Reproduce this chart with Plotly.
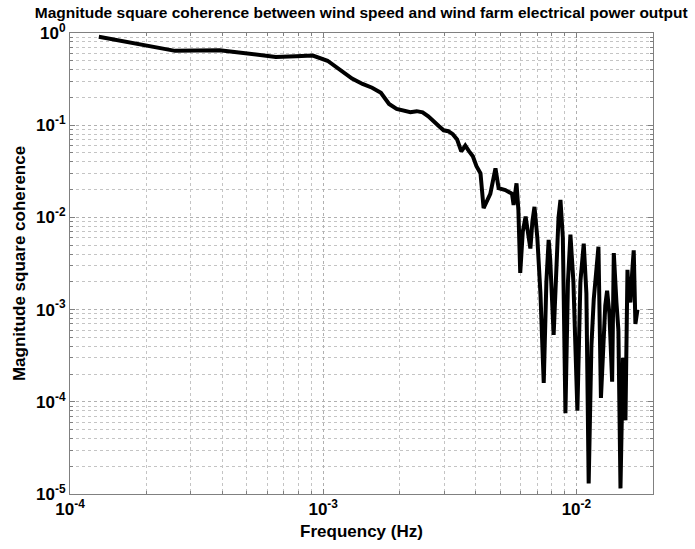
import plotly.graph_objects as go

freq_hz = [
    1.30e-4, 2.60e-4, 3.90e-4, 5.20e-4, 6.50e-4, 7.80e-4, 9.10e-4, 1.04e-3,
    1.17e-3, 1.30e-3, 1.43e-3, 1.56e-3, 1.69e-3, 1.82e-3, 1.95e-3, 2.08e-3,
    2.21e-3, 2.34e-3, 2.47e-3, 2.60e-3, 2.73e-3, 2.86e-3, 2.99e-3, 3.12e-3,
    3.25e-3, 3.38e-3, 3.51e-3, 3.64e-3, 3.77e-3, 3.90e-3, 4.03e-3, 4.18e-3,
    4.30e-3, 4.57e-3, 4.79e-3, 4.93e-3, 5.24e-3, 5.57e-3, 5.65e-3, 5.80e-3,
    5.90e-3, 6.00e-3, 6.14e-3, 6.30e-3, 6.43e-3, 6.58e-3, 6.70e-3, 6.83e-3,
    7.01e-3, 7.21e-3, 7.43e-3, 7.61e-3, 7.77e-3, 7.88e-3, 8.13e-3, 8.34e-3,
    8.50e-3, 8.65e-3, 8.84e-3, 9.05e-3, 9.26e-3, 9.47e-3, 9.60e-3, 9.73e-3,
    1.009e-2, 1.037e-2, 1.069e-2, 1.095e-2, 1.118e-2, 1.146e-2, 1.171e-2,
    1.200e-2, 1.222e-2, 1.250e-2, 1.279e-2, 1.300e-2, 1.322e-2, 1.350e-2,
    1.384e-2, 1.405e-2, 1.439e-2, 1.465e-2, 1.493e-2, 1.527e-2, 1.562e-2,
    1.591e-2, 1.610e-2, 1.634e-2, 1.660e-2, 1.684e-2, 1.710e-2, 1.742e-2,
]

coherence = [
    0.91, 0.64, 0.65, 0.59, 0.55, 0.56, 0.57, 0.50,
    0.39, 0.32, 0.28, 0.255, 0.225, 0.17, 0.15, 0.145,
    0.138, 0.142, 0.138, 0.125, 0.112, 0.098, 0.088, 0.086,
    0.080, 0.070, 0.052, 0.060, 0.052, 0.046, 0.036, 0.030,
    0.0126, 0.018, 0.034, 0.0207, 0.0198, 0.018, 0.0136, 0.0234,
    0.012, 0.0025, 0.007, 0.0102, 0.007, 0.0046, 0.009, 0.013,
    0.006, 0.0015, 0.00016, 0.002, 0.0057, 0.0035, 0.00053, 0.004,
    0.010, 0.0155, 0.006, 0.000075, 0.002, 0.0065, 0.0035, 0.002,
    0.00008, 0.002, 0.0052, 0.0015, 0.000013, 0.0004, 0.0013,
    0.003, 0.0048, 0.00011, 0.0006, 0.0011, 0.0016, 0.0009,
    0.000165, 0.0041, 0.0012, 0.0006, 0.0000115, 0.0003, 0.000063,
    0.0027, 0.0014, 0.0012, 0.0025, 0.0044, 0.0007, 0.0010,
]

x_tickvals = [1e-4, 1e-3, 1e-2]
x_ticktext = ["10<sup>-4</sup>", "10<sup>-3</sup>", "10<sup>-2</sup>"]
y_tickvals = [1e-5, 1e-4, 1e-3, 1e-2, 1e-1, 1e0]
y_ticktext = ["10<sup>-5</sup>", "10<sup>-4</sup>", "10<sup>-3</sup>",
              "10<sup>-2</sup>", "10<sup>-1</sup>", "10<sup>0</sup>"]

fig = go.Figure()
fig.add_trace(go.Scatter(
    x=freq_hz, y=coherence, mode="lines",
    line=dict(color="black", width=4),
    showlegend=False,
))

font_family = "Liberation Sans, Arial, sans-serif"
grid = dict(showgrid=True, gridcolor="#b0b0b0", griddash="dot", gridwidth=1)

fig.update_layout(
    width=695, height=549,
    margin=dict(l=70, r=42, t=33, b=55, autoexpand=False),
    paper_bgcolor="white", plot_bgcolor="white",
    font=dict(family=font_family, color="black"),
    title=dict(
        text="<b>Magnitude square coherence between wind speed and wind farm electrical power output</b>",
        x=0.05, xanchor="left", y=0.978, yanchor="middle",
        font=dict(size=15.5, family=font_family, color="black"),
    ),
)

fig.update_xaxes(
    type="log", range=[-4, -1.6975], automargin=False,
    tickvals=x_tickvals, ticktext=x_ticktext,
    tickfont=dict(size=17, family=font_family, color="black", weight="bold"),
    title=dict(text="<b>Frequency (Hz)</b>", font=dict(size=17), standoff=6),
    showline=True, linecolor="#808080", linewidth=1, mirror="ticks",
    ticks="inside", ticklen=5, tickcolor="#808080",
    minor=dict(dtick="D1", showgrid=True, gridcolor="#c4c4c4", griddash="dot",
               ticks="inside", ticklen=3, tickcolor="#808080"),
    zeroline=False, **grid,
)
fig.update_yaxes(
    type="log", range=[-5, 0], automargin=False,
    tickvals=y_tickvals, ticktext=y_ticktext,
    tickfont=dict(size=17, family=font_family, color="black", weight="bold"),
    title=dict(text="<b>Magnitude square coherence</b>", font=dict(size=17), standoff=6),
    showline=True, linecolor="#808080", linewidth=1, mirror="ticks",
    ticks="inside", ticklen=5, tickcolor="#808080",
    minor=dict(dtick="D1", showgrid=True, gridcolor="#c4c4c4", griddash="dot",
               ticks="inside", ticklen=3, tickcolor="#808080"),
    zeroline=False, **grid,
)

fig.write_html("out.html", config={"displayModeBar": False},
               post_script="document.body.style.margin='0';")
